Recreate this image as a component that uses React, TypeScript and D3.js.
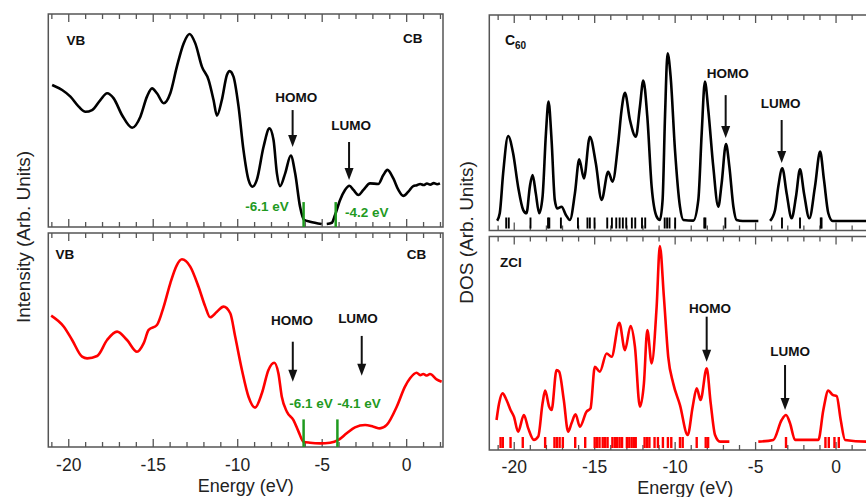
import React, { useEffect, useRef } from "react";
import * as d3 from "d3";

type Pt = [number, number | null];

// measured spectra, C60 (top) and ZCI (bottom), null = break in the trace
const c60Spectrum: Pt[] = [
  [-20.98, 66.7], [-20.39, 64.3], [-19.9, 61.2], [-19.41, 56.5], [-19.01, 54.1], [-18.62, 54.9],
  [-18.13, 59.6], [-17.73, 62.8], [-17.34, 60.4], [-16.85, 52.6], [-16.25, 46.6], [-15.76, 51.8],
  [-15.37, 61.2], [-15.07, 65.1], [-14.78, 62.8], [-14.38, 58.1], [-13.99, 62.8], [-13.6, 75.3],
  [-13.2, 86.2], [-12.85, 90.6], [-12.51, 86.2], [-12.12, 75.3], [-11.72, 69.0], [-11.43, 59.6],
  [-11.23, 52.3], [-10.94, 59.6], [-10.64, 71.4], [-10.48, 73.2], [-10.25, 70.6], [-9.95, 56.5],
  [-9.66, 36.2], [-9.36, 22.1], [-9.12, 18.9], [-8.87, 22.1], [-8.47, 37.7], [-8.12, 46.3],
  [-7.88, 40.8], [-7.68, 25.2], [-7.49, 19.2], [-7.19, 25.2], [-6.86, 33.5], [-6.6, 25.2],
  [-6.31, 9.5], [-6.07, 3.3], [-5.72, 2.5], [-5.03, 1.4], [-4.9, null],
  [-4.73, 1.4], [-4.43, 2.0], [-4.24, 5.6], [-3.94, 12.7], [-3.65, 17.4], [-3.39, 19.4],
  [-3.15, 17.4], [-2.86, 15.0], [-2.56, 17.4], [-2.17, 20.5], [-1.68, 20.2], [-1.38, 24.4],
  [-1.14, 26.8], [-0.79, 22.8], [-0.49, 17.4], [-0.2, 14.6], [0.1, 16.6], [0.39, 19.2],
  [0.6, 19.6], [0.8, 20.2], [1.0, 19.7], [1.2, 20.4], [1.4, 19.9], [1.6, 20.6], [1.8, 20.1], [1.97, 20.5],
];

const zciSpectrum: Pt[] = [
  [-21.04, 61.4], [-20.29, 56.2], [-19.8, 50.0], [-19.21, 42.2], [-18.91, 41.4], [-18.32, 42.5],
  [-17.73, 50.0], [-17.14, 53.9], [-16.55, 50.0], [-15.96, 44.5], [-15.57, 48.4], [-15.27, 54.7],
  [-14.78, 57.0], [-14.38, 65.6], [-13.99, 76.5], [-13.6, 85.0], [-13.3, 87.7], [-12.81, 84.3],
  [-12.32, 74.9], [-11.92, 65.6], [-11.63, 60.6], [-11.23, 63.2], [-10.84, 65.6], [-10.44, 62.5],
  [-10.15, 51.6], [-9.75, 36.0], [-9.36, 23.5], [-8.97, 18.4], [-8.57, 25.1], [-8.18, 36.0],
  [-7.84, 39.4], [-7.59, 34.4], [-7.39, 23.5], [-7.09, 16.5], [-6.7, 12.6], [-6.4, 7.2],
  [-6.11, 2.5], [-5.72, 2.0], [-5.12, 1.7], [-4.53, 2.0], [-4.04, 3.3], [-3.55, 6.4],
  [-3.06, 9.2], [-2.46, 10.3], [-1.97, 9.5], [-1.58, 8.7], [-1.18, 10.3], [-0.59, 18.8],
  [-0.1, 28.2], [0.2, 32.1], [0.59, 34.7], [0.8, 33.6], [0.98, 34.1], [1.2, 33.4], [1.38, 34.1],
  [1.77, 31.6], [2.07, 30.5],
];

// calculated DOS
const c60Dos: Pt[] = [
  [-21.06, 0.6], [-20.9, 5.0], [-20.69, 28.7], [-20.38, 50.9], [-20.07, 40.6], [-19.76, 20.8],
  [-19.44, 6.9], [-19.24, 5.0], [-19.03, 20.8], [-18.86, 27.7], [-18.66, 16.8], [-18.45, 5.0],
  [-18.24, 14.9], [-18.03, 52.5], [-17.87, 71.3], [-17.68, 48.5], [-17.48, 12.9], [-17.33, 7.9],
  [-17.06, 8.9], [-16.79, 4.0], [-16.54, 1.0], [-16.23, 16.8], [-15.96, 37.0], [-15.67, 25.7],
  [-15.3, 50.5], [-14.93, 34.7], [-14.57, 12.9], [-14.16, 29.7], [-13.89, 23.8], [-13.54, 46.5],
  [-13.33, 66.3], [-13.12, 76.6], [-12.81, 60.4], [-12.44, 50.5], [-12.19, 68.3], [-11.98, 83.8],
  [-11.73, 62.4], [-11.46, 20.8], [-11.15, 3.0], [-10.95, 1.0], [-10.78, 12.9], [-10.63, 62.4],
  [-10.47, 100], [-10.28, 86.1], [-10.01, 42.6], [-9.7, 8.9], [-9.49, 1.0], [-8.87, 0.6],
  [-8.56, 12.9], [-8.35, 52.5], [-8.15, 83.2], [-7.94, 66.3], [-7.63, 32.7], [-7.32, 8.9],
  [-7.11, 22.8], [-6.84, 46.1], [-6.63, 32.7], [-6.38, 8.9], [-6.18, 1.0], [-5.8, 0.4],
  [-4.83, 0.4], [-4.5, null],
  [-4.1, 0.4], [-3.79, 6.9], [-3.59, 20.8], [-3.34, 31.7], [-3.07, 16.8], [-2.76, 2.0],
  [-2.49, 14.9], [-2.24, 31.1], [-1.99, 16.8], [-1.66, 2.0], [-1.31, 20.8], [-0.99, 41.6],
  [-0.75, 24.8], [-0.48, 5.0], [-0.21, 0.4], [1.87, 0.4], [2.2, 0.4],
];

const zciDos: Pt[] = [
  [-21.1, 11.1], [-20.94, 19.6], [-20.73, 24.7], [-20.48, 21.3], [-20.23, 16.2], [-20.02, 12.8],
  [-19.76, 5.1], [-19.4, 13.6], [-19.13, 6.8], [-18.78, 0.9], [-18.51, 2.6], [-18.24, 19.6],
  [-18.08, 26.1], [-17.83, 17.9], [-17.68, 16.2], [-17.37, 36.6], [-17.21, 35.8], [-16.92, 21.3],
  [-16.65, 5.1], [-16.44, 9.4], [-16.19, 14.0], [-15.92, 7.7], [-15.51, 15.3], [-15.26, 17.0],
  [-14.99, 38.3], [-14.68, 35.8], [-14.26, 45.1], [-13.95, 43.4], [-13.47, 60.8], [-13.12, 46.8],
  [-12.77, 59.1], [-12.5, 48.6], [-12.19, 17.9], [-11.94, 29.8], [-11.73, 57.1], [-11.46, 40.0],
  [-11.15, 69.0], [-10.95, 100], [-10.7, 74.1], [-10.43, 43.4], [-10.12, 29.8], [-9.7, 18.7],
  [-9.22, 3.4], [-8.91, 17.9], [-8.66, 27.3], [-8.42, 21.3], [-8.04, 37.5], [-7.79, 19.6],
  [-7.52, 3.4], [-7.21, 0], [-6.63, 0], [-5.7, null],
  [-4.83, 0], [-3.9, 0.9], [-3.38, 11.1], [-3.11, 13.6], [-2.86, 9.4], [-2.55, 0.9],
  [-1.1, 0.9], [-0.79, 16.2], [-0.48, 26.1], [-0.21, 23.9], [0.04, 23.3], [0.29, 11.1],
  [0.56, 0.9], [1.87, 0], [2.2, 0],
];

// eigenvalue sticks under the DOS
const c60Levels = [
  -20.5, -20.34, -18.99, -17.9, -17.82, -17.1, -16.04, -15.45, -15.3, -15.01, -14.22, -13.93,
  -13.66, -13.45, -13.25, -13.04, -12.69, -12.48, -12.06, -11.86, -10.65, -10.5, -10.35, -10.0,
  -8.19, -8.12, -6.88, -3.36, -2.24, -0.95, -0.9,
];
const zciLevels = [
  -20.85, -20.71, -20.23, -19.47, -18.08, -17.5, -17.35, -17.18, -16.98, -16.21, -15.59, -15.0,
  -14.85, -14.7, -14.5, -14.35, -14.2, -13.9, -13.75, -13.6, -13.45, -13.3, -13.0, -12.85, -12.7,
  -12.55, -12.45, -11.9, -11.75, -11.6, -11.28, -11.07, -10.76, -10.45, -10.24, -9.7, -9.53,
  -8.66, -8.1, -7.95, -3.11, -0.66, -0.45, -0.1, 0.17,
];

const energyTicks = [-20, -15, -10, -5, 0];
const gapTop = [-6.1, -4.2];
const gapBottom = [-6.1, -4.1];

const FONT = "'Liberation Sans', Arial, Helvetica, sans-serif";
const GREEN = "#1f9a1f";

const App = () => {
  const ref = useRef<SVGSVGElement>(null);

  useEffect(() => {
    const svg = d3.select(ref.current);
    svg.selectAll("*").remove();

    const drawPanel = (p: any) => {
      const x = d3.scaleLinear().domain(p.dom).range([p.x0, p.x1]);
      const y = d3.scaleLinear().domain(p.vdom).range([p.y1, p.y0]);
      const g = svg.append("g");

      // frame
      g.append("rect")
        .attr("x", p.x0).attr("y", p.y0)
        .attr("width", p.x1 - p.x0).attr("height", p.y1 - p.y0)
        .attr("fill", "none").attr("stroke", "#555").attr("stroke-width", 1.5);

      // inward ticks on top and bottom
      const ticks = d3.range(Math.ceil(p.dom[0]), Math.floor(p.dom[1]) + 1);
      ticks.forEach((t) => {
        const len = t % 5 === 0 ? 8 : 5;
        g.append("line").attr("x1", x(t)).attr("x2", x(t))
          .attr("y1", p.y0).attr("y2", p.y0 + len)
          .attr("stroke", "#555").attr("stroke-width", 1.3);
        g.append("line").attr("x1", x(t)).attr("x2", x(t))
          .attr("y1", p.y1).attr("y2", p.y1 - len)
          .attr("stroke", "#555").attr("stroke-width", 1.3);
      });

      if (p.labels) {
        g.selectAll(".tl").data(energyTicks).enter().append("text")
          .attr("x", (d) => x(d)).attr("y", p.labelY)
          .attr("text-anchor", "middle").attr("font-family", FONT)
          .attr("font-size", 17.5).attr("fill", "#222")
          .text((d) => String(d));
        g.append("text")
          .attr("x", (p.titleX)).attr("y", p.titleY)
          .attr("text-anchor", "middle").attr("font-family", FONT)
          .attr("font-size", 18).attr("fill", "#222")
          .text("Energy (eV)");
      }

      // eigenvalue sticks
      if (p.levels) {
        g.selectAll(".lv").data(p.levels).enter().append("line")
          .attr("x1", (d: number) => x(d)).attr("x2", (d: number) => x(d))
          .attr("y1", p.y1 - 13).attr("y2", p.y1 - 2)
          .attr("stroke", p.color).attr("stroke-width", p.color === "#000" ? 1.9 : 2.4);
      }

      const line = d3.line<Pt>()
        .defined((d) => d[1] !== null)
        .x((d) => x(d[0]))
        .y((d) => y(d[1] as number))
        .curve(d3.curveMonotoneX);

      g.append("path").datum(p.data).attr("d", line)
        .attr("fill", "none").attr("stroke", p.color)
        .attr("stroke-width", 2.6).attr("stroke-linejoin", "round");

      // green onset markers
      if (p.gap) {
        p.gap.forEach((e: number) => {
          g.append("line").attr("x1", x(e)).attr("x2", x(e))
            .attr("y1", y(0)).attr("y2", y(p.gapH))
            .attr("stroke", GREEN).attr("stroke-width", 2.5);
        });
      }

      (p.notes || []).forEach((n: any) => {
        const t = g.append("text")
          .attr("x", x(n.e)).attr("y", y(n.v))
          .attr("text-anchor", n.anchor || "middle")
          .attr("font-family", FONT).attr("font-weight", "bold")
          .attr("font-size", 13.5).attr("fill", n.color || "#111");
        if (n.sub) {
          t.append("tspan").attr("font-size", 14).text(n.text);
          t.append("tspan").attr("font-size", 10).attr("dy", 4).text(n.sub);
        } else {
          t.text(n.text);
        }
      });

      (p.arrows || []).forEach((a: any) => {
        const ax = x(a.e);
        const ya = y(a.v0);
        const yb = y(a.v1);
        g.append("line").attr("x1", ax).attr("x2", ax)
          .attr("y1", ya).attr("y2", yb - 10)
          .attr("stroke", "#111").attr("stroke-width", 2);
        g.append("path")
          .attr("d", `M${ax - 4.5},${yb - 12}L${ax + 4.5},${yb - 12}L${ax},${yb}Z`)
          .attr("fill", "#111");
      });
    };

    drawPanel({
      x0: 48.3, x1: 443, y0: 14, y1: 227, dom: [-21.21, 2.15], vdom: [0, 100],
      data: c60Spectrum, color: "#000", gap: gapTop, gapH: 11.7,
      notes: [
        { e: -20.13, v: 85.4, text: "VB", anchor: "start" },
        { e: -0.22, v: 86.4, text: "CB", anchor: "start" },
        { e: -6.54, v: 58.7, text: "HOMO" },
        { e: -3.29, v: 45.5, text: "LUMO" },
        { e: -8.27, v: 7.5, text: "-6.1 eV", color: GREEN },
        { e: -2.36, v: 4.9, text: "-4.2 eV", color: GREEN },
      ],
      arrows: [
        { e: -6.75, v0: 54.9, v1: 37.6 },
        { e: -3.41, v0: 39.9, v1: 22.1 },
      ],
    });

    drawPanel({
      x0: 48.3, x1: 443, y0: 233, y1: 447, dom: [-21.21, 2.15], vdom: [0, 100],
      data: zciSpectrum, color: "#f00", gap: gapBottom, gapH: 12.9,
      labels: true, labelY: 470.5, titleX: 245.8, titleY: 492,
      notes: [
        { e: -20.78, v: 87.9, text: "VB", anchor: "start" },
        { e: 0.0, v: 87.9, text: "CB", anchor: "start" },
        { e: -6.78, v: 56.8, text: "HOMO" },
        { e: -2.88, v: 57.9, text: "LUMO" },
        { e: -5.66, v: 18, text: "-6.1 eV", color: GREEN },
        { e: -2.82, v: 18, text: "-4.1 eV", color: GREEN },
      ],
      arrows: [
        { e: -6.74, v0: 49.2, v1: 30.5 },
        { e: -2.66, v0: 51.9, v1: 33.3 },
      ],
    });

    drawPanel({
      x0: 489.3, x1: 870, y0: 15, y1: 230.5, dom: [-21.55, 2.11], vdom: [-5.25, 122.8],
      data: c60Dos, color: "#000", levels: c60Levels,
      notes: [
        { e: -20.58, v: 105, text: "C", sub: "60", anchor: "start" },
        { e: -6.73, v: 85.6, text: "HOMO" },
        { e: -3.44, v: 67.8, text: "LUMO" },
      ],
      arrows: [
        { e: -6.86, v0: 75.2, v1: 49.7 },
        { e: -3.38, v0: 60.4, v1: 34.8 },
      ],
    });

    drawPanel({
      x0: 489.3, x1: 870, y0: 236.5, y1: 450, dom: [-21.55, 2.11], vdom: [-4.26, 104.9],
      data: zciDos, color: "#f00", levels: zciLevels,
      labels: true, labelY: 472.5, titleX: 685.3, titleY: 494,
      notes: [
        { e: -20.89, v: 89.5, text: "ZCI", anchor: "start" },
        { e: -7.83, v: 65.8, text: "HOMO" },
        { e: -2.86, v: 44.0, text: "LUMO" },
      ],
      arrows: [
        { e: -8.04, v0: 63.9, v1: 40.9 },
        { e: -3.17, v0: 39.2, v1: 16.2 },
      ],
    });

    // y axis titles
    svg.append("text")
      .attr("transform", "translate(29.5,237) rotate(-90)")
      .attr("text-anchor", "middle").attr("font-family", FONT)
      .attr("font-size", 19).attr("fill", "#222")
      .text("Intensity (Arb. Units)");
    svg.append("text")
      .attr("transform", "translate(473,232.5) rotate(-90)")
      .attr("text-anchor", "middle").attr("font-family", FONT)
      .attr("font-size", 19).attr("fill", "#222")
      .text("DOS (Arb. Units)");
  }, []);

  return (
    <svg
      ref={ref}
      width={866}
      height={497}
      style={{ position: "absolute", left: 0, top: 0, background: "#fff" }}
    />
  );
};

export default App;
